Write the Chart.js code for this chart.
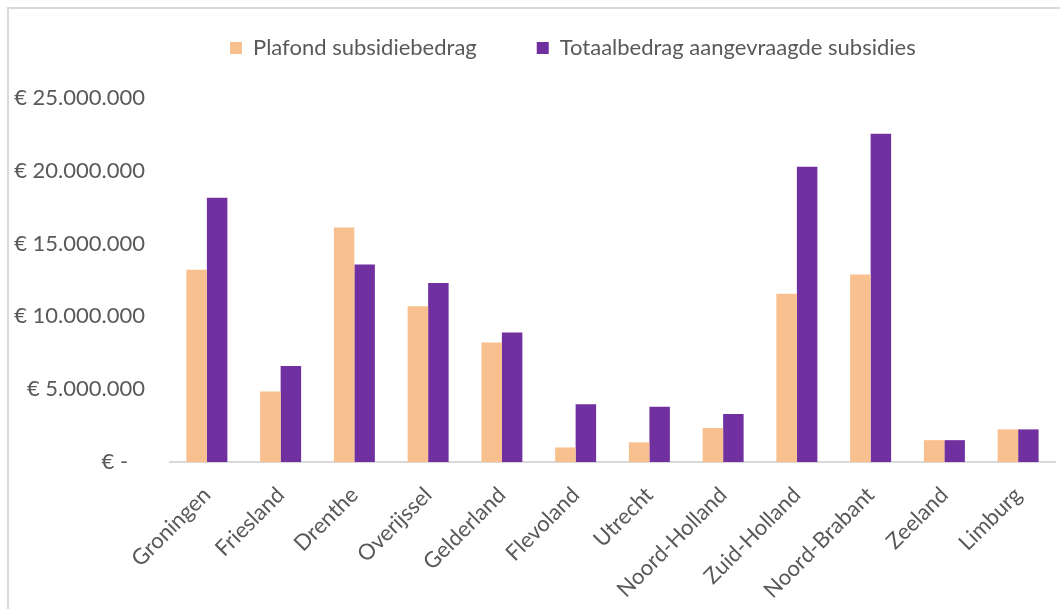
<!DOCTYPE html>
<html>
<head>
<meta charset="utf-8">
<title>Subsidies per provincie</title>
<script src="https://cdn.jsdelivr.net/npm/chart.js@4.4.0/dist/chart.umd.min.js"></script>
<style>
  html, body { margin: 0; padding: 0; background: #fff; overflow: hidden; }
  #frame { position: absolute; left: 7px; top: 7px; width: 1200px; height: 800px; border: 2px solid #d9d9d9; }
  #wrap { position: absolute; left: 0; top: 0; width: 1060px; height: 609px; }
</style>
</head>
<body>
<div id="frame"></div>
<div id="wrap"><canvas id="chart"></canvas></div>
<script>
// provincies
var provinces = ['Groningen', 'Friesland', 'Drenthe', 'Overijssel', 'Gelderland', 'Flevoland',
                 'Utrecht', 'Noord-Holland', 'Zuid-Holland', 'Noord-Brabant', 'Zeeland', 'Limburg'];

var plafond = [13200000, 4850000, 16100000, 10700000, 8200000, 1000000,
               1350000, 2330000, 11550000, 12880000, 1500000, 2240000];
var aangevraagd = [18150000, 6600000, 13560000, 12300000, 8900000, 3970000,
                   3800000, 3290000, 20270000, 22550000, 1500000, 2240000];

var seriesNames = ['Plafond subsidiebedrag', 'Totaalbedrag aangevraagde subsidies'];
var yMax = 25000000;
var yStep = 5000000;

var textColor = '#595959';
var font = { family: 'Lato', size: 22 };

function euro(v) {
  if (v === 0) return '\u20AC -   ';
  return '\u20AC ' + String(v).replace(/\B(?=(\d{3})+(?!\d))/g, '.');
}

// extra ruimte onder de legenda
var legendGap = {
  id: 'legendGap',
  beforeInit: function(chart) {
    var fit = chart.legend.fit;
    chart.legend.fit = function() {
      fit.bind(chart.legend)();
      this.height += 29;
    };
  }
};

new Chart(document.getElementById('chart'), {
  type: 'bar',
  data: {
    labels: provinces,
    datasets: [{
      label: seriesNames[0],
      data: plafond,
      backgroundColor: '#F9C08F',
      borderWidth: 0
    }, {
      label: seriesNames[1],
      data: aangevraagd,
      backgroundColor: '#7030A0',
      borderWidth: 0
    }]
  },
  options: {
    responsive: true,
    maintainAspectRatio: false,
    animation: false,
    devicePixelRatio: 1,
    layout: { padding: { left: 0, right: 5, top: -23, bottom: 0 } },
    datasets: { bar: { categoryPercentage: 0.556, barPercentage: 1 } },
    plugins: {
      legend: {
        position: 'top',
        align: 'start',
        fullSize: false,
        labels: { boxWidth: 12, boxHeight: 12, padding: 60, color: textColor, font: font }
      },
      tooltip: { enabled: false }
    },
    scales: {
      x: {
        grid: { display: false, drawTicks: false },
        border: { color: '#d9d9d9', width: 2 },
        ticks: { color: textColor, font: font, maxRotation: 45, minRotation: 45, padding: 20, autoSkip: false },
        afterFit: function(scale) { scale.height = 147; }
      },
      y: {
        min: 0,
        max: yMax,
        grid: { display: false, drawTicks: false },
        border: { display: false },
        ticks: { stepSize: yStep, color: textColor, font: font, padding: 25, callback: euro },
        afterFit: function(scale) { scale.width = 170; }
      }
    }
  },
  plugins: [legendGap]
});
</script>
</body>
</html>
